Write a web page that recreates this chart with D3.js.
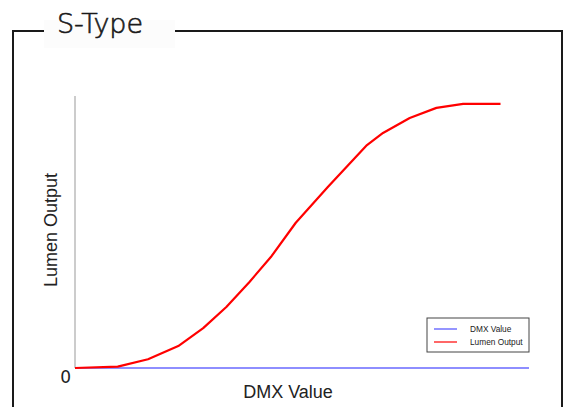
<!DOCTYPE html>
<html>
<head>
<meta charset="utf-8">
<script src="https://cdn.jsdelivr.net/npm/d3@7"></script>
<style>
  body { margin: 0; background: #fff; }
  svg { display: block; }
</style>
</head>
<body>
<svg id="chart" width="563" height="407"></svg>
<script>
// S-Type dimming curve
const chartTitle = "S-Type";
const dmxValues = [0, 24, 41, 58, 72, 85, 98, 110, 124, 142, 164, 173, 188, 203, 218, 239];
const lumenValues = [0, 0.5, 3.3, 8.3, 15.1, 23.1, 32.6, 42, 55, 68.5, 84.4, 89, 94.7, 98.5, 100, 100];
const dmxLine = [[0, 0], [255, 0]];
const legendNames = ["DMX Value", "Lumen Output"];
const legendColors = ["#4d4dff", "#ff0000"];
const yTickLabels = ["0"];

const svg = d3.select("#chart");

// frame
svg.append("rect")
    .attr("x", 13).attr("y", 31)
    .attr("width", 549).attr("height", 420)
    .attr("fill", "none")
    .attr("stroke", "#1a1a1a")
    .attr("stroke-width", 2);

// title box
svg.append("rect")
    .attr("x", 44).attr("y", 20)
    .attr("width", 131).attr("height", 28)
    .attr("fill", "#fcfcfc");
svg.append("text")
    .attr("x", 57).attr("y", 33)
    .attr("font-family", "'DejaVu Sans', sans-serif")
    .attr("font-weight", 200)
    .attr("font-size", 27)
    .attr("textLength", 86)
    .attr("fill", "#1a1a1a")
    .attr("stroke", "#1a1a1a")
    .attr("stroke-width", 0.6)
    .text(chartTitle);

const x = d3.scaleLinear().domain([0, 255]).range([75, 529]);
const y = d3.scaleLinear().domain([0, 103]).range([368, 96]);

// y axis line
svg.append("line")
    .attr("x1", x(0)).attr("x2", x(0))
    .attr("y1", y(0)).attr("y2", y(103))
    .attr("stroke", "#aaa")
    .attr("stroke-width", 1.2);

svg.append("text")
    .attr("x", x(0) - 4).attr("y", 383)
    .attr("text-anchor", "end")
    .attr("font-family", "'DejaVu Sans', sans-serif")
    .attr("font-size", 17)
    .attr("fill", "#222")
    .text(yTickLabels[0]);

// axis titles
svg.append("text")
    .attr("transform", `translate(57,${(y(0) + y(103)) / 2 - 2}) rotate(-90)`)
    .attr("text-anchor", "middle")
    .attr("font-family", "'Liberation Sans', Arial, sans-serif")
    .attr("font-size", 18)
    .attr("fill", "#222")
    .text("Lumen Output");

svg.append("text")
    .attr("x", 288).attr("y", 398)
    .attr("text-anchor", "middle")
    .attr("font-family", "'Liberation Sans', Arial, sans-serif")
    .attr("font-size", 18)
    .attr("fill", "#222")
    .text("DMX Value");

const line = d3.line().x(d => x(d[0])).y(d => y(d[1]));

svg.append("path")
    .datum(dmxLine)
    .attr("d", line)
    .attr("fill", "none")
    .attr("stroke", legendColors[0])
    .attr("stroke-opacity", 0.85)
    .attr("stroke-width", 1.5);

svg.append("path")
    .datum(dmxValues.map((v, i) => [v, lumenValues[i]]))
    .attr("d", line)
    .attr("fill", "none")
    .attr("stroke", legendColors[1])
    .attr("stroke-width", 2.2)
    .attr("stroke-linejoin", "round");

// legend
const legend = svg.append("g").attr("transform", "translate(427,318)");
legend.append("rect")
    .attr("width", 102).attr("height", 34)
    .attr("fill", "#fff")
    .attr("stroke", "#444")
    .attr("stroke-width", 1);
legendNames.forEach((name, i) => {
    const ly = 11 + i * 13;
    legend.append("line")
        .attr("x1", 7).attr("x2", 30)
        .attr("y1", ly).attr("y2", ly)
        .attr("stroke", legendColors[i])
        .attr("stroke-width", 1.2);
    legend.append("text")
        .attr("x", 43).attr("y", ly + 3)
        .attr("font-family", "'Liberation Sans', Arial, sans-serif")
        .attr("font-size", 8.3)
        .attr("fill", "#222")
        .text(name);
});
</script>
</body>
</html>
